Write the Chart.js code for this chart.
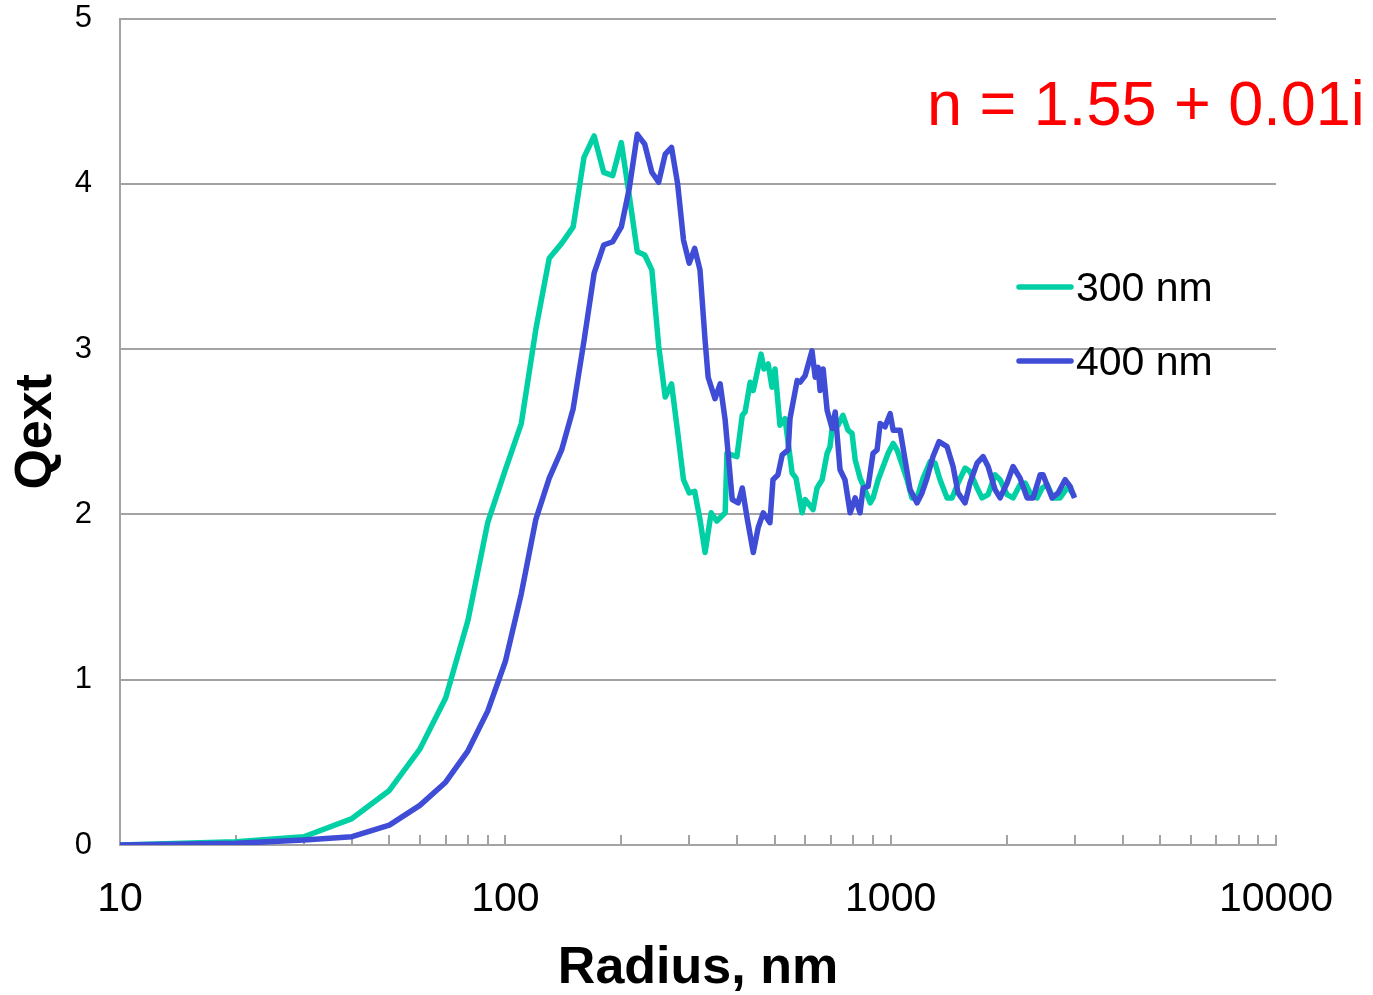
<!DOCTYPE html>
<html>
<head>
<meta charset="utf-8">
<title>Qext vs radius</title>
<script src="https://cdn.jsdelivr.net/npm/chart.js@4.4.1/dist/chart.umd.min.js"></script>
<style>
    body { margin: 0; background: #fff; }
    #wrap { width: 1373px; height: 995px; position: relative; }
</style>
</head>
<body>
<div id="wrap"><canvas id="qextChart"></canvas></div>
<script>
// radius (nm) and Qext
const radius300 = [10,20,30,40,50,60,70,80,90,100,110,120,130,140,150,160,170,180,190,200,210,220,230,240,250,260,270,280,290,300,310,320,330,
    342,354,372,376,399,412,419,432,440,461,
    469,481,492,501,516,532,555,568,589,600,
    629,644,664,684,696,709,730,752,775,794,
    809,833,858,885,900,928,956,985,1015,1039,
    1071,1103,1136,1171,1214,1266,1304,1343,1401,1443,
    1496,1560,1607,1676,1727,1790,1866,1923,2005,2078,
    2167,2234,2301,2399,2472,2547,2640,2752,2870,2920,3000];
const qext300 = [0.00,0.02,0.05,0.16,0.33,0.58,0.89,1.36,1.95,2.27,2.55,3.12,3.55,3.64,3.74,4.16,4.29,4.07,4.05,4.25,3.92,3.59,3.57,3.48,3.02,2.71,2.79,2.50,2.21,2.13,2.14,1.97,1.77,
    2.01,1.96,2.01,2.37,2.35,2.60,2.62,2.80,2.75,2.97,
    2.88,2.91,2.77,2.88,2.54,2.58,2.25,2.22,2.01,2.09,
    2.03,2.16,2.21,2.37,2.41,2.57,2.54,2.60,2.51,2.49,
    2.33,2.22,2.15,2.07,2.10,2.21,2.29,2.37,2.43,2.39,
    2.30,2.21,2.10,2.10,2.22,2.32,2.31,2.21,2.10,2.10,
    2.19,2.28,2.26,2.16,2.10,2.12,2.24,2.21,2.12,2.10,
    2.18,2.19,2.13,2.10,2.16,2.18,2.10,2.10,2.16,2.15,2.11];

const radius400 = [10,20,30,40,50,60,70,80,90,100,110,120,130,140,150,160,170,180,190,200,210,220,230,240,250,260,270,280,290,300,310,320,330,
    336,350,361,372,388,402,412,424,440,453,
    467,486,495,510,523,542,548,572,582,600,
    625,637,648,656,668,684,705,718,739,761,
    785,809,833,848,874,900,922,939,967,997,
    1015,1058,1090,1123,1171,1206,1243,1288,1335,1401,
    1452,1496,1560,1607,1676,1737,1790,1866,1923,2005,
    2078,2167,2260,2343,2443,2486,2624,2720,2836,2922,3000];
const qext400 = [0.00,0.01,0.03,0.05,0.12,0.24,0.38,0.57,0.81,1.11,1.52,1.97,2.22,2.39,2.64,3.05,3.46,3.63,3.65,3.74,3.98,4.30,4.24,4.07,4.01,4.18,4.22,4.00,3.66,3.52,3.61,3.48,3.05,
    2.83,2.70,2.79,2.57,2.09,2.07,2.16,1.98,1.77,1.92,
    2.01,1.95,2.21,2.24,2.36,2.39,2.58,2.81,2.80,2.84,
    2.99,2.83,2.89,2.75,2.88,2.63,2.52,2.62,2.27,2.21,
    2.01,2.10,2.01,2.16,2.17,2.37,2.39,2.55,2.53,2.61,
    2.51,2.51,2.33,2.15,2.07,2.13,2.22,2.35,2.44,2.41,
    2.29,2.13,2.07,2.19,2.31,2.35,2.29,2.15,2.10,2.19,
    2.29,2.22,2.10,2.10,2.24,2.24,2.10,2.13,2.21,2.17,2.10];

const seriesNames = ['300 nm', '400 nm'];
const xTickLabels = [10, 100, 1000, 10000];
const yTickValues = [0, 1, 2, 3, 4, 5];
const noteText = 'n = 1.55 + 0.01i';

const FONT = "Arial, 'Liberation Sans', sans-serif";
const GREEN = '#00D0A4';
const BLUE = '#3F4CD6';
const GRID = '#a3a3a3';

// all 1..9 x 10^k marks between the labelled decades
const xTickValues = [];
for (let i = 0; i < xTickLabels.length - 1; i++) {
    for (let m = 1; m <= 9; m++) xTickValues.push(xTickLabels[i] * m);
}
xTickValues.push(xTickLabels[xTickLabels.length - 1]);

function toPoints(xs, ys) {
    return xs.map((x, i) => ({ x: x, y: ys[i] }));
}

// legend + refractive index note, drawn inside the plot
const overlayPlugin = {
    id: 'overlay',
    afterDraw(chart) {
        const ctx = chart.ctx;
        ctx.save();
        const rows = [287, 361];
        chart.data.datasets.forEach((ds, i) => {
            ctx.strokeStyle = ds.borderColor;
            ctx.lineWidth = 5.5;
            ctx.lineCap = 'round';
            ctx.beginPath();
            ctx.moveTo(1019, rows[i]);
            ctx.lineTo(1071, rows[i]);
            ctx.stroke();
            ctx.fillStyle = '#000';
            ctx.font = '41px ' + FONT;
            ctx.textBaseline = 'middle';
            ctx.textAlign = 'left';
            ctx.fillText(ds.label, 1076, rows[i] + 3);
        });
        ctx.fillStyle = '#ff0000';
        ctx.font = '63px ' + FONT;
        ctx.textBaseline = 'alphabetic';
        ctx.fillText(noteText, 927, 125);
        ctx.restore();
    }
};

document.addEventListener('DOMContentLoaded', function () {
    const ctx = document.getElementById('qextChart').getContext('2d');

    new Chart(ctx, {
        type: 'line',
        data: {
            datasets: [{
                label: seriesNames[0],
                data: toPoints(radius300, qext300),
                borderColor: GREEN,
                borderWidth: 5.5,
                borderJoinStyle: 'round',
                pointRadius: 0,
                tension: 0,
                order: 1
            }, {
                label: seriesNames[1],
                data: toPoints(radius400, qext400),
                borderColor: BLUE,
                borderWidth: 5.5,
                borderJoinStyle: 'round',
                pointRadius: 0,
                tension: 0,
                order: 0
            }]
        },
        options: {
            responsive: true,
            maintainAspectRatio: false,
            animation: false,
            layout: { padding: { top: 18, right: 97, left: 0, bottom: 0 } },
            plugins: {
                legend: { display: false },
                tooltip: { enabled: false }
            },
            scales: {
                x: {
                    type: 'logarithmic',
                    min: 10,
                    max: 10000,
                    afterBuildTicks: function (scale) {
                        scale.ticks = xTickValues.map(v => ({ value: v }));
                    },
                    afterFit: function (scale) { scale.height = 150; },
                    ticks: {
                        autoSkip: false,
                        maxRotation: 0,
                        color: '#000',
                        font: { size: 41, family: FONT },
                        padding: 40,
                        callback: function (v) { return xTickLabels.includes(v) ? String(v) : ''; }
                    },
                    grid: { drawOnChartArea: false, drawTicks: true, tickLength: -10, color: GRID, lineWidth: 2 },
                    border: { color: GRID, width: 2 },
                    title: {
                        display: true,
                        text: 'Radius, nm',
                        color: '#000',
                        font: { size: 52, weight: 'bold', family: FONT, lineHeight: 1 },
                        padding: 0
                    }
                },
                y: {
                    min: 0,
                    max: 5,
                    afterBuildTicks: function (scale) {
                        scale.ticks = yTickValues.map(v => ({ value: v }));
                    },
                    afterFit: function (scale) { scale.width = 120; },
                    ticks: {
                        color: '#000',
                        font: { size: 31, family: FONT },
                        padding: 0
                    },
                    // invisible tick marks push the labels away from the axis
                    grid: { color: GRID, lineWidth: 2, drawTicks: true, tickLength: 28, tickColor: 'rgba(0,0,0,0)' },
                    border: { color: GRID, width: 2 },
                    title: {
                        display: true,
                        text: 'Qext',
                        color: '#000',
                        font: { size: 52, weight: 'bold', family: FONT, lineHeight: 1 },
                        padding: { top: 11, bottom: 0 }
                    }
                }
            }
        },
        plugins: [overlayPlugin]
    });
});
</script>
</body>
</html>
